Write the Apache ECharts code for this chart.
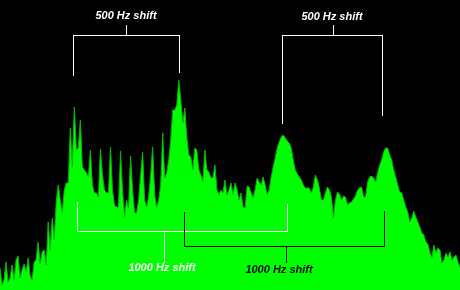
<!DOCTYPE html>
<html>
<head>
<meta charset="utf-8">
<script src="https://cdn.jsdelivr.net/npm/echarts@6/dist/echarts.min.js"></script>
<style>html,body{margin:0;padding:0;background:#000;}#c{width:460px;height:290px;}</style>
</head>
<body>
<div id="c"></div>
<script>
// Spectrum level (pixels of height above the floor) for successive frequency bins, left to right
const levels = [
22,5,10,28,8,12,25,10,30,34,12,20,26,18,32,14,10,28,30,48,
26,38,40,25,68,40,72,50,88,105,90,77,100,107,107,162,123,183,140,142,
170,123,120,117,113,140,105,97,97,93,141,115,100,97,97,143,100,85,83,83,
139,100,73,90,82,134,100,77,77,90,115,138,90,83,93,115,143,95,83,90,
105,157,112,117,130,150,180,180,185,210,190,167,182,153,135,133,120,142,140,120,
115,108,140,120,118,112,112,125,100,95,100,97,110,95,100,107,95,107,100,90,
97,83,82,104,103,97,92,100,112,108,105,113,105,95,100,113,123,132,142,148,
153,155,152,149,147,142,130,120,116,113,110,105,102,102,102,97,103,115,110,102,
90,90,97,103,100,93,72,90,98,96,90,94,93,85,87,88,91,94,100,102,
103,93,93,108,113,114,112,108,117,125,130,138,142,142,135,130,120,113,105,98,
97,90,83,78,68,72,79,73,68,63,57,55,48,46,38,32,45,37,42,40,
27,30,37,33,38,30,33,35,28,23
];
const bins = levels.map((_, i) => String(i));
const topLabel = "500 Hz shift";
const bottomLabel = "1000 Hz shift";

const chart = echarts.init(document.getElementById('c'), null, {renderer: 'canvas'});

function seg(x1, y1, x2, y2, color) {
  return {type: 'line', shape: {x1: x1, y1: y1, x2: x2, y2: y2},
          style: {stroke: color, lineWidth: 1}, z: 100};
}
function label(x, y, t, color) {
  return {type: 'text', x: x, y: y, z: 101,
          style: {text: t, fill: color, font: 'bold italic 11px "Liberation Sans", Arial, sans-serif',
                  align: 'center', verticalAlign: 'middle'}};
}
const W = '#ffffff', K = '#000000';

chart.setOption({
  backgroundColor: '#000000',
  animation: false,
  grid: {left: 0, right: 0, top: 0, bottom: 0},
  xAxis: {type: 'category', data: bins, boundaryGap: false, show: false},
  yAxis: {type: 'value', min: 0, max: 290, show: false},
  series: [{
    type: 'line',
    data: levels,
    symbol: 'none',
    step: false,
    lineStyle: {color: '#00b800', width: 1},
    areaStyle: {color: '#00ff00', opacity: 1}
  }],
  graphic: [
    // top-left 500 Hz bracket
    label(126, 16, topLabel, W),
    seg(126.5, 25, 126.5, 35.5, W),
    seg(73.5, 35.5, 179.5, 35.5, W),
    seg(73.5, 35, 73.5, 76, W),
    seg(179.5, 35, 179.5, 73, W),
    // top-right 500 Hz bracket
    label(332, 17, topLabel, W),
    seg(333.5, 25, 333.5, 35.5, W),
    seg(282.5, 35.5, 382.5, 35.5, W),
    seg(282.5, 35, 282.5, 124, W),
    seg(382.5, 35, 382.5, 116, W),
    // white 1000 Hz bracket
    seg(77.5, 202, 77.5, 231.5, W),
    seg(77.5, 231.5, 287.5, 231.5, W),
    seg(287.5, 204, 287.5, 231.5, W),
    seg(164.5, 231.5, 164.5, 263, W),
    label(162, 268, bottomLabel, W),
    // black 1000 Hz bracket
    seg(184.5, 212, 184.5, 246.5, K),
    seg(184.5, 246.5, 384.5, 246.5, K),
    seg(384.5, 211, 384.5, 246.5, K),
    seg(286.5, 246.5, 286.5, 263, K),
    label(279, 270, bottomLabel, K)
  ]
});
</script>
</body>
</html>
